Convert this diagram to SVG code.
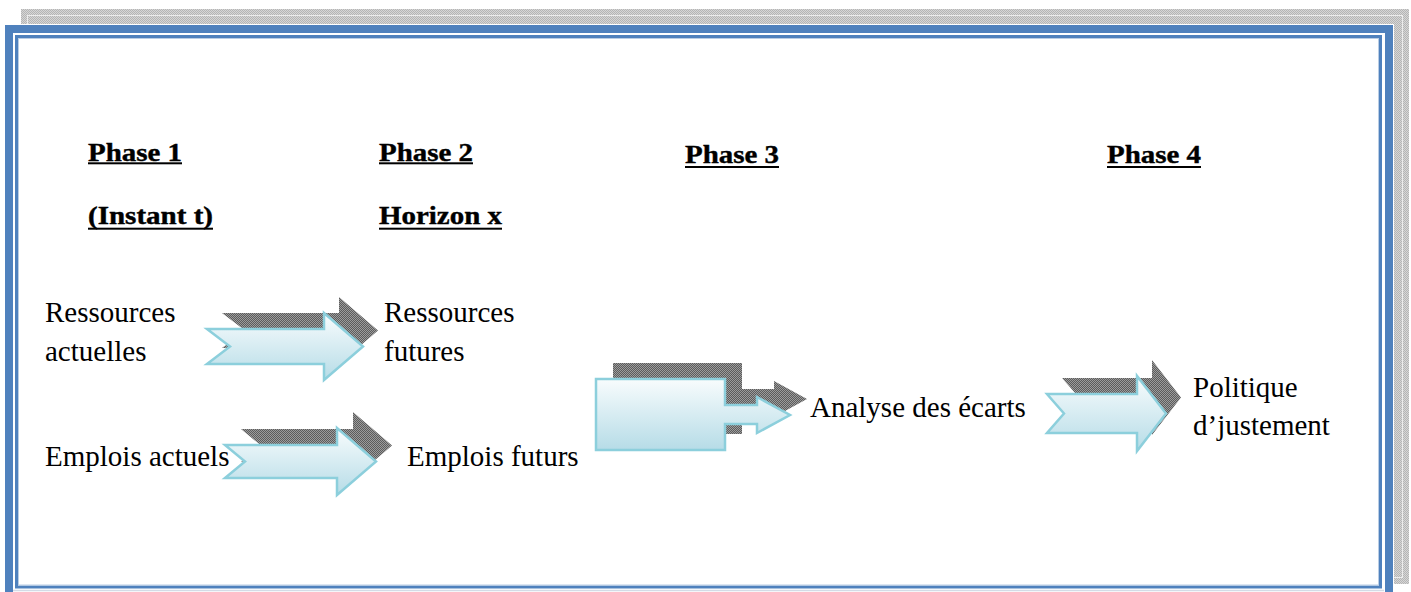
<svg xmlns="http://www.w3.org/2000/svg" width="1411" height="592" viewBox="0 0 1411 592">
  <style>
    .hd { font-family: "Liberation Serif", "Times New Roman", serif; font-weight: bold; font-size: 25px; fill: #000; stroke: #000; stroke-width: 0.4; }
    .tx { font-family: "Liberation Serif", "Times New Roman", serif; font-size: 29px; fill: #000; }
    .ul { fill: #000; }
    .arrow { fill: url(#arrowFill); stroke: #8ccfdc; stroke-width: 2.5; stroke-linejoin: miter; }
    .shadow { fill: url(#darkDots); }
  </style>
  <defs>
    <pattern id="lightDots" width="2" height="2" patternUnits="userSpaceOnUse">
      <rect width="2" height="2" fill="#d6d6d6"/>
      <rect width="1" height="1" fill="#b5b5b5"/>
      <rect x="1" y="1" width="1" height="1" fill="#b5b5b5"/>
    </pattern>
    <pattern id="darkDots" width="2" height="2" patternUnits="userSpaceOnUse">
      <rect width="2" height="2" fill="#9c9c9c"/>
      <rect width="1" height="1" fill="#5c5c5c"/>
      <rect x="1" y="1" width="1" height="1" fill="#5c5c5c"/>
    </pattern>
    <linearGradient id="arrowFill" x1="0" y1="0" x2="0" y2="1">
      <stop offset="0" stop-color="#f8fcfd"/>
      <stop offset="1" stop-color="#b6dce7"/>
    </linearGradient>
  </defs>

  <rect width="1411" height="592" fill="#fff"/>

  <!-- page border with its drop shadow -->
  <g id="border">
    <rect x="21" y="9" width="1388" height="575" fill="url(#lightDots)"/>
    <rect x="27.5" y="15.5" width="1375" height="562" fill="none" stroke="#ececec" stroke-width="1"/>
    <rect x="4" y="24" width="1390" height="580" fill="#fff"/>
    <rect x="9" y="29" width="1380" height="572" fill="none" stroke="#4f81bd" stroke-width="8"/>
    <rect x="16.5" y="36.5" width="1364" height="550.5" fill="none" stroke="#4f81bd" stroke-width="3"/>
    <rect x="18.5" y="38.5" width="1360" height="546.5" fill="none" stroke="#b9cde5" stroke-width="1"/>
    <line x1="13" y1="590.5" x2="1384" y2="590.5" stroke="#d3dbe6" stroke-width="1.5"/>
  </g>

  <!-- phase headings -->
  <g id="phase1">
    <text class="hd" x="88" y="161" textLength="94" lengthAdjust="spacingAndGlyphs">Phase 1</text>
    <rect class="ul" x="88" y="162.3" width="94" height="2"/>
    <text class="hd" x="88" y="224" textLength="125" lengthAdjust="spacingAndGlyphs">(Instant t)</text>
    <rect class="ul" x="88" y="227.7" width="125" height="2"/>
  </g>
  <g id="phase2">
    <text class="hd" x="379" y="161" textLength="94" lengthAdjust="spacingAndGlyphs">Phase 2</text>
    <rect class="ul" x="379" y="162.3" width="94" height="2"/>
    <text class="hd" x="379" y="224" textLength="123" lengthAdjust="spacingAndGlyphs">Horizon x</text>
    <rect class="ul" x="379" y="227.7" width="123" height="2"/>
  </g>
  <g id="phase3">
    <text class="hd" x="685" y="163" textLength="94" lengthAdjust="spacingAndGlyphs">Phase 3</text>
    <rect class="ul" x="685" y="166" width="94" height="2"/>
  </g>
  <g id="phase4">
    <text class="hd" x="1107" y="163" textLength="94" lengthAdjust="spacingAndGlyphs">Phase 4</text>
    <rect class="ul" x="1107" y="166" width="94" height="2"/>
  </g>

  <!-- connectors: shadowed block arrows -->
  <g id="connectors">
    <g id="arrow-ressources">
      <path class="shadow" transform="translate(15,-16)" d="M207,329 L324,329 L324,313 L363,346.5 L324,380 L324,364 L207,364 L230,346.5 Z"/>
      <path class="arrow" d="M207,329 L324,329 L324,313 L363,346.5 L324,380 L324,364 L207,364 L230,346.5 Z"/>
    </g>
    <g id="arrow-emplois">
      <path class="shadow" transform="translate(16,-16)" d="M225,445 L337,445 L337,428 L376,461.5 L337,495 L337,478 L225,478 L245,461.5 Z"/>
      <path class="arrow" d="M225,445 L337,445 L337,428 L376,461.5 L337,495 L337,478 L225,478 L245,461.5 Z"/>
    </g>
    <g id="arrow-analyse">
      <path class="shadow" transform="translate(17,-16)" d="M596,379 L725,379 L725,405 L757,405 L757,397 L790,415 L757,433 L757,424 L725,424 L725,450 L596,450 Z"/>
      <path class="arrow" d="M596,379 L725,379 L725,405 L757,405 L757,397 L790,415 L757,433 L757,424 L725,424 L725,450 L596,450 Z"/>
    </g>
    <g id="arrow-politique">
      <path class="shadow" transform="translate(15,-16)" d="M1047,394 L1137,394 L1137,376 L1166,413.5 L1137,451 L1137,433 L1047,433 L1064,413.5 Z"/>
      <path class="arrow" d="M1047,394 L1137,394 L1137,376 L1166,413.5 L1137,451 L1137,433 L1047,433 L1064,413.5 Z"/>
    </g>
  </g>

  <!-- nodes -->
  <g id="ressources-actuelles">
    <text class="tx" x="45" y="322">Ressources</text>
    <text class="tx" x="45" y="361">actuelles</text>
  </g>
  <g id="ressources-futures">
    <text class="tx" x="384" y="322">Ressources</text>
    <text class="tx" x="384" y="361">futures</text>
  </g>
  <g id="emplois-actuels">
    <text class="tx" x="45" y="466">Emplois actuels</text>
  </g>
  <g id="emplois-futurs">
    <text class="tx" x="407" y="466">Emplois futurs</text>
  </g>
  <g id="analyse-ecarts">
    <text class="tx" x="810" y="417">Analyse des écarts</text>
  </g>
  <g id="politique-ajustement">
    <text class="tx" x="1193" y="397">Politique</text>
    <text class="tx" x="1193" y="435">d’justement</text>
  </g>
</svg>
